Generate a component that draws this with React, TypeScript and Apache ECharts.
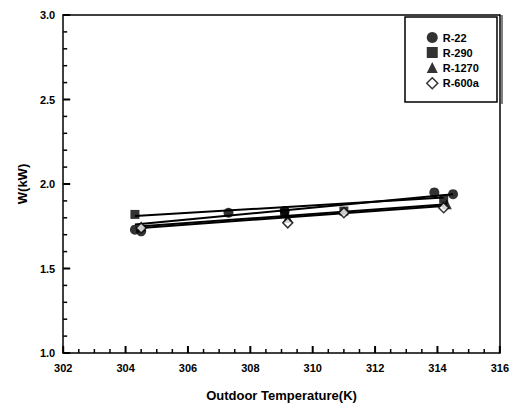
import { useEffect, useRef } from "react";
import * as echarts from "echarts";

// Measured compressor power W (kW) against outdoor temperature (K)
const seriesNames = ["R-22", "R-290", "R-1270", "R-600a"];

const r22Points = [
  [304.3, 1.73], [304.5, 1.72], [307.3, 1.83], [309.1, 1.84], [313.9, 1.95], [314.5, 1.94],
];
const r290Points = [
  [304.3, 1.82], [309.1, 1.83], [311.0, 1.84], [314.2, 1.91],
];
const r1270Points = [
  [304.5, 1.75], [309.2, 1.80], [314.3, 1.88],
];
const r600aPoints = [
  [304.5, 1.74], [309.2, 1.77], [311.0, 1.83], [314.2, 1.86],
];

// Straight trend lines (start and end) for each refrigerant
const r22Trend = [[304.3, 1.76], [314.5, 1.94]];
const r290Trend = [[304.3, 1.81], [314.2, 1.92]];
const r1270Trend = [[304.5, 1.75], [314.3, 1.88]];
const r600aTrend = [[304.5, 1.74], [314.2, 1.87]];

const xTicks = { min: 302, max: 316, interval: 2, minorSplit: 4 };
const yTicks = { min: 1.0, max: 3.0, interval: 0.5, minorSplit: 5 };

const FONT = "Liberation Sans, Arial, sans-serif";

// [value, isMajor] pairs for the inward tick marks along an axis
function tickMarks(t: { min: number; max: number; interval: number; minorSplit: number }) {
  const out: number[][] = [];
  const steps = Math.round((t.max - t.min) / t.interval) * t.minorSplit;
  for (let i = 0; i <= steps; i++) {
    const v = t.min + (i * t.interval) / t.minorSplit;
    out.push([Number(v.toFixed(4)), i % t.minorSplit === 0 ? 1 : 0]);
  }
  return out;
}

export default function App() {
  const ref = useRef<HTMLDivElement>(null);

  useEffect(() => {
    if (!ref.current) return;
    const chart = echarts.init(ref.current, undefined, { renderer: "svg" });

    const pointSets = [r22Points, r290Points, r1270Points, r600aPoints];
    const trends = [r22Trend, r290Trend, r1270Trend, r600aTrend];
    const symbols = ["circle", "rect", "triangle", "diamond"];
    const sizes = [10, 9, 10, 10];

    const scatterSeries = seriesNames.map((name, i) => ({
      type: "scatter",
      name,
      data: pointSets[i],
      symbol: symbols[i],
      symbolSize: sizes[i],
      z: 3,
      itemStyle:
        i === 3
          ? { color: "#fff", borderColor: "#000", borderWidth: 1.5 }
          : { color: "#000" },
    }));

    const lineSeries = seriesNames.map((name, i) => ({
      type: "line",
      name: name + " trend",
      data: trends[i],
      showSymbol: false,
      symbol: "none",
      z: 2,
      lineStyle: { color: "#000", width: 2 },
    }));

    const nameStyle = { fontFamily: FONT, fontWeight: "bold", fontSize: 13, color: "#000" };
    const labelStyle = { fontFamily: FONT, fontWeight: "bold", fontSize: 11, color: "#000" };
    const frameLine = { show: true, lineStyle: { color: "#000", width: 1.5 } };

    const legendFrame = [
      {
        type: "rect",
        shape: { x: 397, y: 9, width: 92, height: 85 },
        style: { fill: "none", stroke: "#000", lineWidth: 1.5 },
        z: 10,
      },
      {
        type: "line",
        shape: { x1: 494, y1: 7, x2: 494, y2: 96 },
        style: { stroke: "#000", lineWidth: 1 },
        z: 10,
      },
    ];

    chart.setOption({
      animation: false,
      grid: { left: 54, right: 7, top: 7, bottom: 51 },
      xAxis: [
        {
          type: "value",
          min: xTicks.min,
          max: xTicks.max,
          interval: xTicks.interval,
          name: "Outdoor Temperature(K)",
          nameLocation: "middle",
          nameGap: 36,
          nameTextStyle: nameStyle,
          axisLine: frameLine,
          axisTick: { show: false },
          splitLine: { show: false },
          axisLabel: { ...labelStyle, margin: 9 },
        },
        {
          type: "value",
          position: "top",
          min: xTicks.min,
          max: xTicks.max,
          interval: xTicks.interval,
          axisLine: frameLine,
          axisTick: { show: false },
          axisLabel: { show: false },
          splitLine: { show: false },
        },
      ],
      yAxis: [
        {
          type: "value",
          min: yTicks.min,
          max: yTicks.max,
          interval: yTicks.interval,
          name: "W(kW)",
          nameLocation: "middle",
          nameGap: 33,
          nameTextStyle: nameStyle,
          axisLine: frameLine,
          axisTick: { show: false },
          splitLine: { show: false },
          axisLabel: {
            ...labelStyle,
            margin: 8,
            formatter: (v: number) => v.toFixed(1),
          },
        },
        {
          type: "value",
          position: "right",
          min: yTicks.min,
          max: yTicks.max,
          interval: yTicks.interval,
          axisLine: frameLine,
          axisTick: { show: false },
          axisLabel: { show: false },
          splitLine: { show: false },
        },
      ],
      legend: {
        data: seriesNames.map((n, i) => ({
          name: n,
          icon: symbols[i],
          itemStyle:
            i === 3
              ? { color: "#fff", borderColor: "#000", borderWidth: 1.5 }
              : { color: "#000" },
        })),
        orient: "vertical",
        left: 413,
        top: 19,
        itemWidth: 11,
        itemHeight: 11,
        itemGap: 4,
        textStyle: { ...labelStyle },
      },
      graphic: legendFrame,
      series: [...lineSeries, ...scatterSeries],
    });

    // Inward tick marks, positioned through the axes' own pixel conversion
    const finder = { xAxisIndex: 0, yAxisIndex: 0 };
    const tickLines: any[] = [];
    tickMarks(xTicks).forEach(([v, major]) => {
      const p = chart.convertToPixel(finder, [v, yTicks.min]) as number[];
      const len = major ? 7 : 4;
      tickLines.push({
        type: "line",
        shape: { x1: p[0], y1: p[1], x2: p[0], y2: p[1] - len },
        style: { stroke: "#000", lineWidth: major ? 2 : 1.5 },
        z: 9,
      });
    });
    tickMarks(yTicks).forEach(([v, major]) => {
      const p = chart.convertToPixel(finder, [xTicks.min, v]) as number[];
      const len = major ? 7 : 4;
      tickLines.push({
        type: "line",
        shape: { x1: p[0], y1: p[1], x2: p[0] + len, y2: p[1] },
        style: { stroke: "#000", lineWidth: major ? 2 : 1.5 },
        z: 9,
      });
    });
    chart.setOption({ graphic: [...legendFrame, ...tickLines] });

    return () => chart.dispose();
  }, []);

  return <div ref={ref} style={{ width: 504, height: 399 }} />;
}
